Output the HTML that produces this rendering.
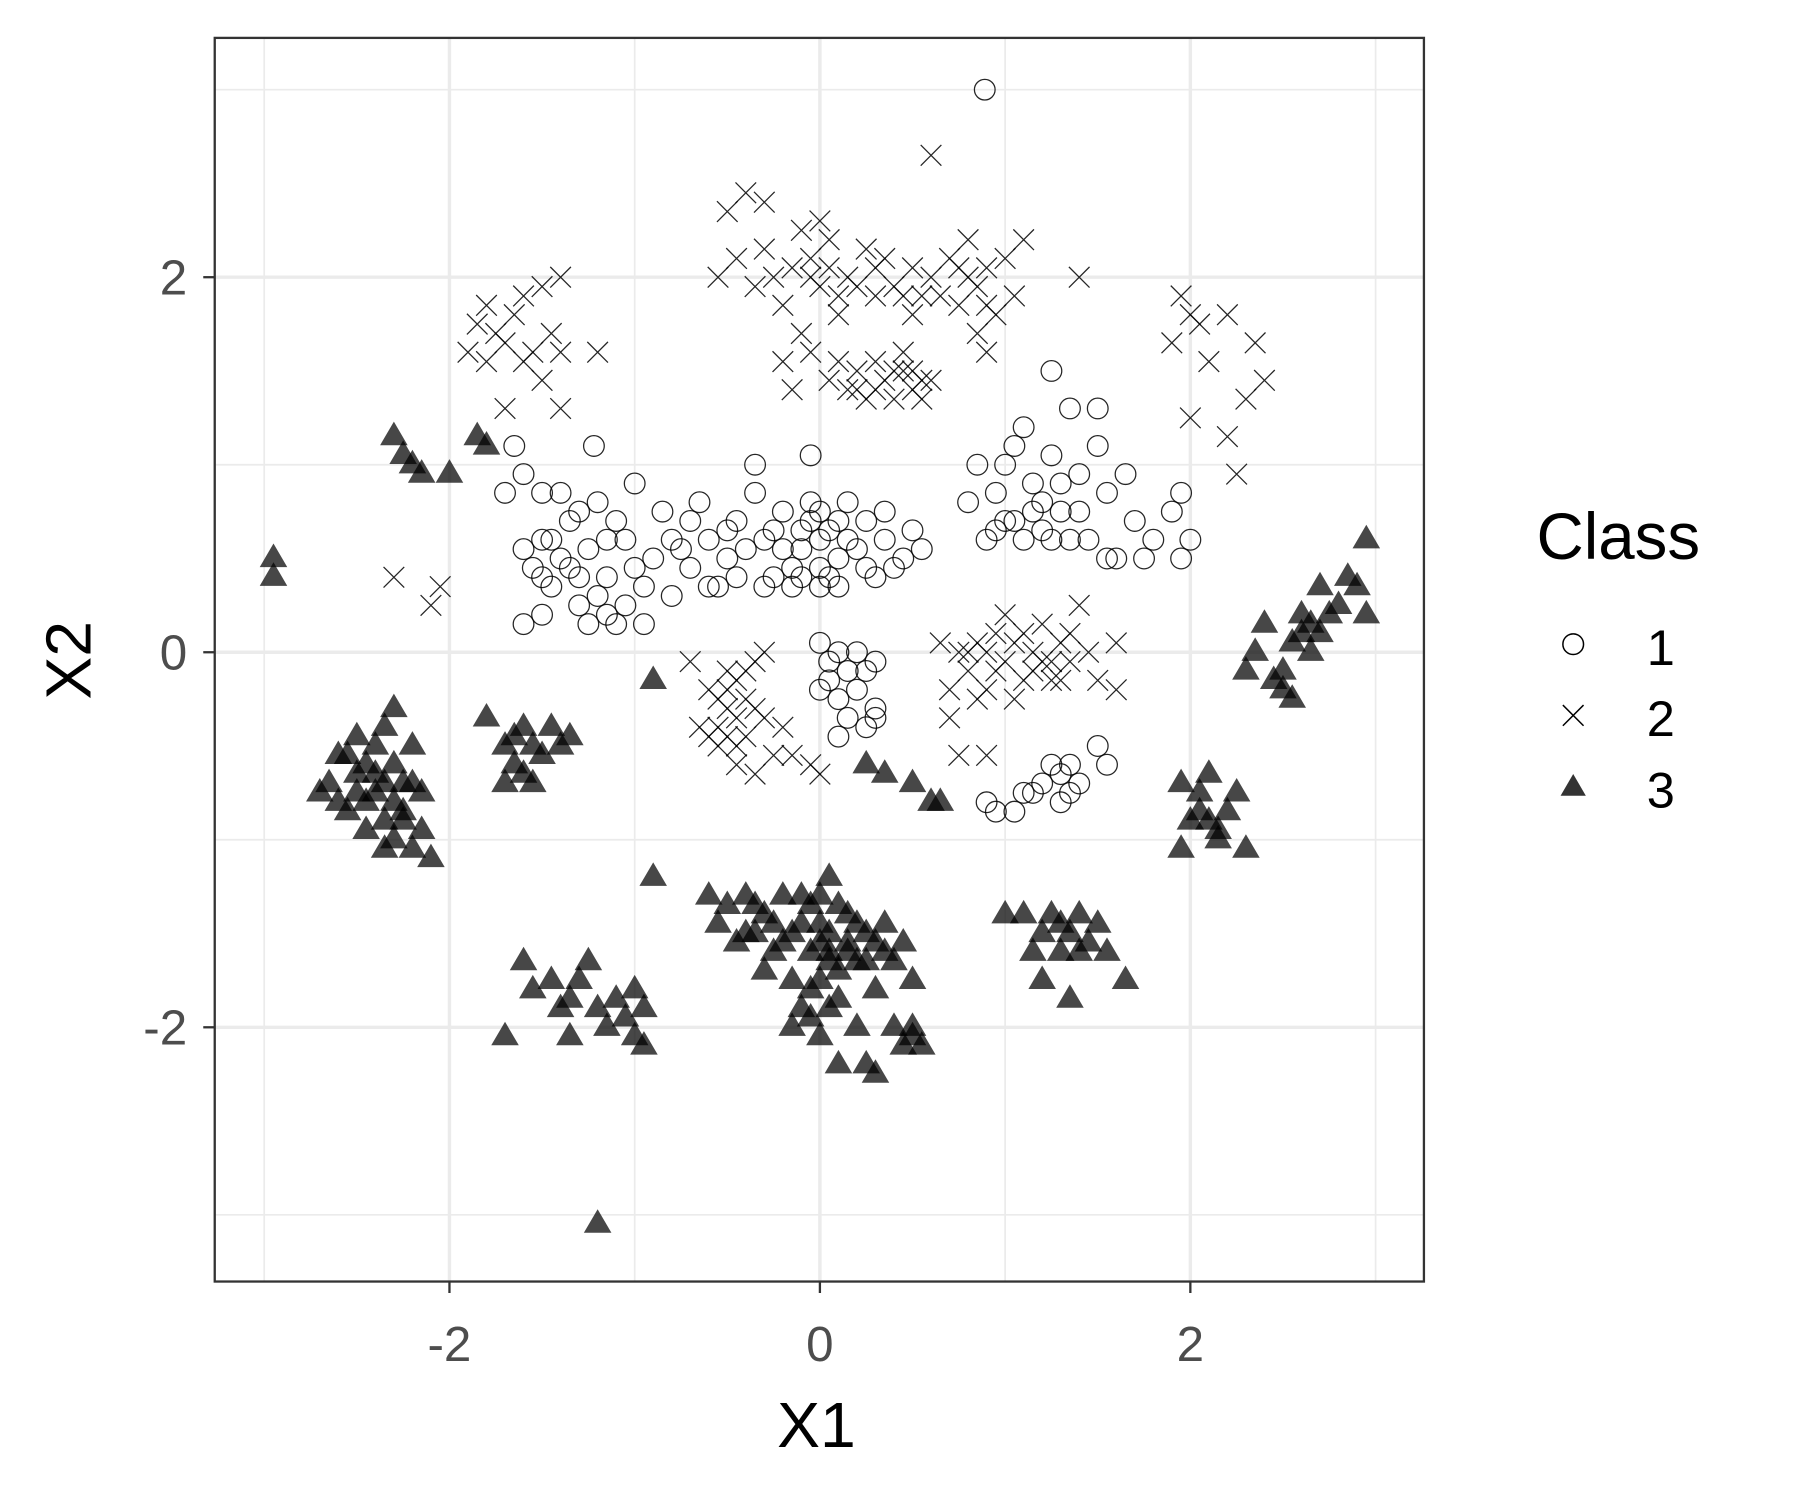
<!DOCTYPE html>
<html><head><meta charset="utf-8"><style>
html,body{margin:0;padding:0;background:#fff}
svg{display:block}
text{font-family:"Liberation Sans",Arial,sans-serif}
</style></head><body>
<svg id="chart" width="1800" height="1500" viewBox="0 0 1567.5 1306.25" preserveAspectRatio="none" xmlns="http://www.w3.org/2000/svg">
<rect x="0" y="0" width="1567.5" height="1306.25" fill="#fff"/>
<g id="grid"></g>
<g id="pts"></g>
<rect x="187" y="33" width="1053" height="1083" fill="none" stroke="#333" stroke-width="2"/>
<g id="axes"></g>
<text x="711" y="1260" font-size="56" text-anchor="middle" fill="#000">X1</text>
<text transform="translate(79,575) rotate(-90)" font-size="56" text-anchor="middle" fill="#000">X2</text>
<g>
<text x="1338" y="487" font-size="57" fill="#000">Class</text>
<g><circle cx="1370" cy="561" r="9" fill="none" stroke="#000" stroke-width="1.3"/><text x="1434" y="579" font-size="44">1</text></g>
<g><path d="M1361,614 L1379,632 M1379,614 L1361,632" stroke="#000" stroke-width="1.3"/><text x="1434" y="641" font-size="44">2</text></g>
<g><polygon points="1370,674 1381,693 1359,693" fill="#333"/><text x="1434" y="703" font-size="44">3</text></g>
</g>
</svg>
<script>
const xTicks=[-2,0,2];
const yTicks=[-2,0,2];
const xMinor=[-3,-1,1,3];
const yMinor=[-3,-1,1,3];
const class1=[[0.89,3.0],
[-1.6,0.55],[-1.55,0.45],[-1.5,0.6],[-1.45,0.35],[-1.4,0.5],[-1.35,0.7],[-1.3,0.25],[-1.25,0.55],[-1.2,0.8],[-1.15,0.4],[-1.1,0.15],[-1.05,0.6],[-1.0,0.9],[-0.95,0.35],[-0.9,0.5],[-0.85,0.75],[-0.8,0.3],[-0.75,0.55],[-0.7,0.45],[-0.65,0.8],[-0.6,0.6],[-0.55,0.35],[-0.5,0.5],[-0.45,0.7],[-0.4,0.55],[-0.35,1.0],[-0.3,0.6],[-0.25,0.4],[-0.2,0.75],[-0.15,0.35],[-0.1,0.55],[-0.05,0.7],[0.0,0.45],[0.05,0.65],[0.1,0.35],[0.15,0.8],[0.2,0.55],[0.25,0.7],[0.3,0.4],[0.35,0.6],[0.4,0.45],[0.45,0.5],[0.5,0.65],[0.55,0.55],[-1.6,0.15],[-1.5,0.2],[-1.25,0.15],[-1.05,0.25],[-1.4,0.85],[-1.7,0.85],[-1.6,0.95],[-1.5,0.85],[-1.65,1.1],[-1.22,1.1],[-0.35,0.85],[-0.05,1.05],[0.0,0.75],[-0.1,0.4],[0.1,0.5],[-0.6,0.35],[-0.8,0.6],[-1.35,0.45],[-1.1,0.7],[-0.95,0.15],
[-1.45,0.6],[-1.3,0.4],[-1.2,0.3],[-1.15,0.6],[-1.3,0.75],[-1.0,0.45],[-0.7,0.7],[-0.5,0.65],[-0.45,0.4],[-0.2,0.55],[-0.1,0.65],[0.0,0.6],[0.05,0.4],[0.15,0.6],[0.25,0.45],[0.35,0.75],[-0.25,0.65],[-0.15,0.45],[0.0,0.35],[-1.5,0.4],[-1.15,0.2],[-0.05,0.8],[0.1,0.7],[-0.3,0.35],
[0.8,0.8],[0.9,0.6],[0.95,0.85],[1.0,1.0],[1.05,0.7],[1.1,1.2],[1.15,0.9],[1.2,0.65],[1.25,1.05],[1.3,0.75],[1.35,1.3],[1.4,0.95],[1.45,0.6],[1.5,1.1],[1.55,0.85],[1.6,0.5],[1.65,0.95],[1.7,0.7],[1.8,0.6],[1.9,0.75],[1.95,0.5],[1.95,0.85],[2.0,0.6],[1.25,1.5],[1.5,1.3],[1.0,0.7],[1.2,0.8],[0.85,1.0],[1.1,0.6],[1.35,0.6],[1.55,0.5],[1.75,0.5],[1.05,1.1],[1.3,0.9],[1.15,0.75],[1.4,0.75],[0.95,0.65],[1.25,0.6],
[0.0,0.05],[0.05,-0.05],[0.1,0.0],[0.15,-0.1],[0.0,-0.2],[0.1,-0.25],[0.2,-0.2],[0.25,-0.1],[0.3,-0.05],[0.3,-0.3],[0.25,-0.4],[0.15,-0.35],[0.3,-0.35],[0.1,-0.45],[0.05,-0.15],[0.2,0.0],
[0.9,-0.8],[0.95,-0.85],[1.05,-0.85],[1.1,-0.75],[1.2,-0.7],[1.25,-0.6],[1.3,-0.65],[1.35,-0.6],[1.35,-0.75],[1.3,-0.8],[1.4,-0.7],[1.5,-0.5],[1.55,-0.6],[1.15,-0.75]];
const class2=[[-0.5,2.35],[-0.4,2.45],[-0.3,2.4],[-0.55,2.0],[-0.45,2.1],[-0.35,1.95],[-0.3,2.15],[-0.2,1.85],[-0.15,2.05],[-0.1,2.25],[-0.05,2.1],[0.0,1.95],[0.05,2.2],[0.1,1.8],[0.15,2.0],[0.2,1.95],[0.25,2.15],[0.3,1.9],[0.35,2.1],[0.4,1.95],[0.5,2.05],[0.55,1.9],[0.6,2.0],[0.7,2.1],[0.75,1.85],[0.8,2.2],[0.85,1.95],[0.9,2.05],[1.0,2.1],[1.05,1.9],[1.1,2.2],[1.4,2.0],[0.6,2.65],[-0.2,1.55],[-0.1,1.7],[-0.05,1.6],[0.05,1.45],[0.15,1.4],[0.2,1.5],[0.25,1.35],[0.3,1.55],[0.35,1.45],[0.4,1.35],[0.45,1.5],[0.5,1.4],[0.55,1.35],[0.6,1.45],[0.45,1.6],[0.85,1.7],[0.9,1.6],[0.95,1.8],[-0.15,1.4],[0.0,2.3],[0.5,1.8],
[-0.05,2.0],[0.05,2.05],[0.1,1.9],[-0.25,2.0],[0.3,2.05],[0.45,1.9],[0.65,1.9],[0.8,2.0],[0.9,1.85],[0.75,2.05],[0.2,1.4],[0.3,1.4],[0.4,1.5],[0.5,1.5],[0.55,1.45],[0.1,1.55],
[-1.9,1.6],[-1.85,1.75],[-1.8,1.55],[-1.75,1.7],[-1.7,1.65],[-1.65,1.8],[-1.6,1.55],[-1.55,1.6],[-1.5,1.45],[-1.45,1.7],[-1.4,1.6],[-1.5,1.95],[-1.4,2.0],[-1.2,1.6],[-1.7,1.3],[-1.4,1.3],[-1.8,1.85],[-1.6,1.9],[-2.3,0.4],[-2.1,0.25],[-2.05,0.35],
[1.95,1.9],[2.0,1.8],[1.9,1.65],[2.05,1.75],[2.1,1.55],[2.2,1.8],[2.35,1.65],[2.4,1.45],[2.3,1.35],[2.2,1.15],[2.0,1.25],[2.25,0.95],
[0.65,0.05],[0.7,-0.2],[0.75,0.0],[0.8,-0.1],[0.85,0.05],[0.9,-0.2],[0.95,0.1],[1.0,-0.05],[1.0,0.2],[1.05,-0.25],[1.1,0.1],[1.15,-0.1],[1.2,0.15],[1.25,-0.15],[1.3,0.05],[1.35,-0.05],[1.4,0.25],[1.45,0.0],[1.5,-0.15],[1.6,-0.2],[1.6,0.05],[0.7,-0.35],[0.9,0.0],[1.1,-0.15],[0.85,-0.25],[1.2,-0.05],[0.75,-0.55],[0.9,-0.55],
[0.95,-0.1],[1.05,0.05],[1.15,0.0],[1.25,-0.05],[1.3,-0.15],[1.35,0.1],[0.8,0.0],
[-0.7,-0.05],[-0.65,-0.4],[-0.6,-0.2],[-0.55,-0.5],[-0.5,-0.1],[-0.5,-0.3],[-0.45,-0.6],[-0.4,-0.25],[-0.4,-0.45],[-0.35,-0.05],[-0.35,-0.65],[-0.3,-0.35],[-0.25,-0.55],[-0.55,-0.25],[-0.45,-0.15],[-0.6,-0.45],[-0.2,-0.4],[-0.15,-0.55],[-0.05,-0.6],[0.0,-0.65],[-0.3,0.0],[-0.45,-0.35],
[-0.5,-0.2],[-0.55,-0.4],[-0.45,-0.5],[-0.4,-0.1],[-0.5,-0.45],[-0.35,-0.3]];
const class3=[[-2.95,0.5],[-2.95,0.4],[-2.3,1.15],[-2.2,1.0],[-2.15,0.95],[-2.25,1.05],[-2.0,0.95],[-1.8,1.1],[-1.85,1.15],
[-2.7,-0.75],[-2.6,-0.55],[-2.55,-0.85],[-2.5,-0.65],[-2.45,-0.95],[-2.4,-0.5],[-2.4,-0.75],[-2.35,-1.05],[-2.3,-0.3],[-2.3,-0.6],[-2.25,-0.85],[-2.2,-0.5],[-2.2,-0.7],[-2.15,-0.95],[-2.1,-1.1],[-2.3,-1.0],[-2.5,-0.45],[-2.45,-0.8],[-2.35,-0.7],[-2.25,-0.9],[-2.2,-1.05],[-2.6,-0.8],[-2.35,-0.4],[-2.15,-0.75],
[-2.55,-0.55],[-2.5,-0.75],[-2.4,-0.65],[-2.3,-0.8],[-2.25,-0.7],[-2.45,-0.6],[-2.35,-0.9],[-2.65,-0.7],
[-1.8,-0.35],[-1.7,-0.5],[-1.65,-0.6],[-1.6,-0.4],[-1.55,-0.7],[-1.5,-0.55],[-1.45,-0.4],[-1.4,-0.5],[-1.35,-0.45],[-1.6,-0.65],[-1.7,-0.7],[-1.65,-0.45],[-1.55,-0.5],
[-0.9,-0.15],[-0.9,-1.2],
[-1.6,-1.65],[-1.55,-1.8],[-1.45,-1.75],[-1.4,-1.9],[-1.35,-2.05],[-1.3,-1.75],[-1.25,-1.65],[-1.2,-1.9],[-1.15,-2.0],[-1.1,-1.85],[-1.05,-1.95],[-1.0,-1.8],[-0.95,-2.1],[-0.95,-1.9],[-1.7,-2.05],[-1.35,-1.85],[-1.0,-2.05],[-1.2,-3.05],
[-0.6,-1.3],[-0.55,-1.45],[-0.5,-1.35],[-0.45,-1.55],[-0.4,-1.3],[-0.35,-1.5],[-0.3,-1.4],[-0.25,-1.6],[-0.2,-1.3],[-0.15,-1.75],[-0.1,-1.45],[-0.1,-1.9],[-0.05,-1.6],[0.0,-1.3],[0.0,-1.75],[0.0,-2.05],[0.05,-1.5],[0.1,-1.85],[0.1,-2.2],[0.15,-1.4],[0.2,-1.65],[0.2,-2.0],[0.25,-1.5],[0.3,-1.8],[0.3,-2.25],[0.35,-1.45],[0.4,-1.65],[0.4,-2.0],[0.45,-1.55],[0.5,-2.05],[0.5,-1.75],[0.55,-2.1],[-0.2,-1.55],[-0.3,-1.7],[0.05,-1.2],[-0.15,-2.0],[0.25,-2.2],[-0.4,-1.5],[0.15,-1.6],[0.05,-1.65],
[-0.1,-1.3],[0.0,-1.45],[-0.05,-1.35],[0.1,-1.35],[0.05,-1.6],[-0.05,-1.8],[0.0,-1.55],[0.1,-1.7],[0.15,-1.55],[-0.15,-1.5],[-0.25,-1.45],[0.3,-1.55],[0.35,-1.6],[0.45,-2.1],[0.5,-2.0],[0.05,-1.9],[-0.05,-1.95],[0.2,-1.45],[-0.35,-1.35],[0.25,-1.65],
[0.25,-0.6],[0.35,-0.65],[0.5,-0.7],[0.6,-0.8],[0.65,-0.8],
[1.0,-1.4],[1.1,-1.4],[1.2,-1.5],[1.25,-1.4],[1.3,-1.6],[1.35,-1.5],[1.4,-1.4],[1.45,-1.55],[1.5,-1.45],[1.55,-1.6],[1.65,-1.75],[1.2,-1.75],[1.35,-1.85],[1.15,-1.6],[1.4,-1.6],[1.3,-1.45],
[1.95,-0.7],[2.05,-0.75],[2.1,-0.9],[2.15,-1.0],[2.2,-0.85],[2.3,-1.05],[2.25,-0.75],[1.95,-1.05],[2.0,-0.9],[2.1,-0.65],[2.15,-0.95],[2.05,-0.85],
[2.3,-0.1],[2.35,0.0],[2.4,0.15],[2.45,-0.15],[2.5,-0.2],[2.55,0.05],[2.6,0.2],[2.65,0.0],[2.7,0.35],[2.75,0.2],[2.85,0.4],[2.9,0.35],[2.95,0.6],[2.95,0.2],[2.7,0.1],[2.55,-0.25],[2.6,0.1],[2.8,0.25],[2.65,0.15],[2.5,-0.1]];

const NS='http://www.w3.org/2000/svg';
function sx(v){return 714+v*161.3;}
function sy(v){return 568-v*163.3;}
function mk(tag,attrs,parent){const e=document.createElementNS(NS,tag);for(const k in attrs)e.setAttribute(k,attrs[k]);parent.appendChild(e);return e;}
const grid=document.getElementById('grid');
const axes=document.getElementById('axes');
const pts=document.getElementById('pts');
xMinor.forEach(v=>{const l=mk('line',{x1:sx(v),x2:sx(v),y1:33,y2:1116,stroke:'#ebebeb','stroke-width':1.5},grid);

});
yMinor.forEach(v=>{const l=mk('line',{x1:187,x2:1240,y1:sy(v),y2:sy(v),stroke:'#ebebeb','stroke-width':1.5},grid);

});
xTicks.forEach(v=>{const l=mk('line',{x1:sx(v),x2:sx(v),y1:33,y2:1116,stroke:'#ebebeb','stroke-width':3},grid);


const t=mk('line',{x1:sx(v),x2:sx(v),y1:1116,y2:1126,stroke:'#333','stroke-width':2},axes);


const tx=mk('text',{x:sx(v),y:1185,'font-size':43,fill:'#4d4d4d','text-anchor':'middle'},axes);
tx.textContent=String(v);

});
yTicks.forEach(v=>{const l=mk('line',{x1:187,x2:1240,y1:sy(v),y2:sy(v),stroke:'#ebebeb','stroke-width':3},grid);


const t=mk('line',{x1:177,x2:187,y1:sy(v),y2:sy(v),stroke:'#333','stroke-width':2},axes);


const tx=mk('text',{x:163,y:sy(v)+15,'font-size':43,fill:'#4d4d4d','text-anchor':'end'},axes);
tx.textContent=String(v);

});
class1.forEach(p=>{const c=mk('circle',{cx:sx(p[0]),cy:sy(p[1]),r:9,fill:'none',stroke:'#000','stroke-width':1.1,'stroke-opacity':0.85},pts);

});
class2.forEach(p=>{const x=sx(p[0]),y=sy(p[1]);const c=mk('path',{d:`M${x-9},${y-9}L${x+9},${y+9}M${x+9},${y-9}L${x-9},${y+9}`,stroke:'#000','stroke-width':1.1,'stroke-opacity':0.85},pts);

});
class3.forEach(p=>{const x=sx(p[0]),y=sy(p[1]);const c=mk('polygon',{points:`${x},${y-13} ${x+12},${y+7.5} ${x-12},${y+7.5}`,fill:'#000','fill-opacity':0.72},pts);

});
</script>
</body></html>
